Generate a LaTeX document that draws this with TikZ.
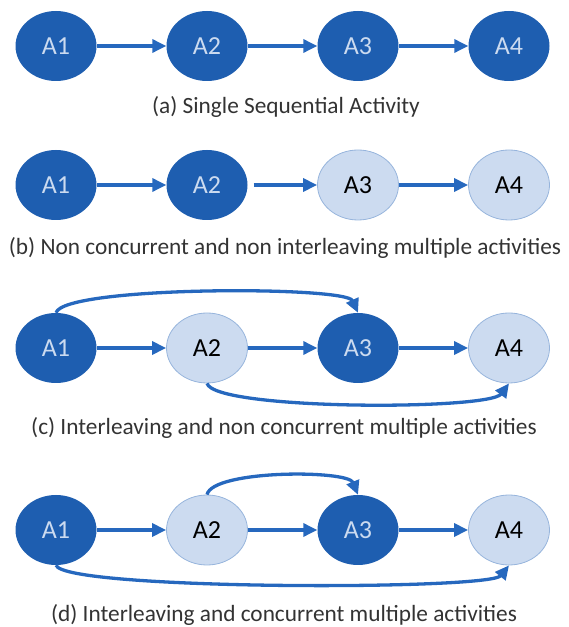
\documentclass[tikz,border=0pt]{standalone}
\usepackage{fontspec}
\setmainfont{Carlito}
\usetikzlibrary{arrows.meta,positioning,shapes.geometric}
\definecolor{actdark}{RGB}{30,94,176}
\definecolor{actlight}{RGB}{204,219,240}
\definecolor{actrim}{RGB}{150,180,220}
\definecolor{flowblue}{RGB}{38,104,190}

\begin{document}
\begin{tikzpicture}[x=1pt,y=1pt,>={Triangle[length=14pt,width=13pt]},node distance=151pt,on grid]
\useasboundingbox (0,0) rectangle (569,627);
\tikzset{act/.style={ellipse,minimum width=81pt,minimum height=70pt,inner sep=0pt,font=\fontsize{26}{28}\selectfont}}
\tikzset{busy/.style={act,fill=actdark,text=actlight}}
\tikzset{idle/.style={act,fill=actlight,draw=actrim,line width=0.8pt,text=black}}
\tikzset{flow/.style={->,draw=flowblue,line width=3.3pt}}
\tikzset{caption/.style={font=\fontsize{23.3}{25}\selectfont,text=black!80}}

  % (a)
  \node[busy]          (a1) at (56,581)         {A1};
  \node[busy]          (a2) [right =of a1]      {A2};
  \node[busy]          (a3) [right =of a2]      {A3};
  \node[busy]          (a4) [right =of a3]      {A4};
  \node[caption]       (ca) at (286,520)        {(a) Single Sequential Activity};
\path
      (a1)     edge [flow]     (a2)
      (a2)     edge [flow]     (a3)
      (a3)     edge [flow]     (a4);

  % (b)
  \node[busy]          (b1) at (56,442)         {A1};
  \node[busy]          (b2) [right =of b1]      {A2};
  \node[idle]          (b3) [right =of b2]      {A3};
  \node[idle]          (b4) [right =of b3]      {A4};
  \node[caption]       (cb) at (285,379)        {(b) Non concurrent and non interleaving multiple activities};
\path
      (b1)     edge [flow]     (b2)
      (b2)     edge [flow,shorten <=6pt]     (b3)
      (b3)     edge [flow]     (b4);

  % (c)
  \node[busy]          (c1) at (56,279)         {A1};
  \node[idle]          (c2) [right =of c1]      {A2};
  \node[busy]          (c3) [right =of c2]      {A3};
  \node[idle]          (c4) [right =of c3]      {A4};
  \node[caption]       (cc) at (284,199)        {(c) Interleaving and non concurrent multiple activities};
\path
      (c1)     edge [flow]     (c2)
      (c2)     edge [flow]     (c3)
      (c3)     edge [flow]     (c4);
  % long hops, north to north and south to south
  \draw[flow] (c1.north) .. controls +(8,27) and +(-12,27) .. (c3.north);
  \draw[flow] (c2.south) .. controls +(8,-27) and +(-20,-27) .. (c4.south);

  % (d)
  \node[busy]          (d1) at (56,97)          {A1};
  \node[idle]          (d2) [right =of d1]      {A2};
  \node[busy]          (d3) [right =of d2]      {A3};
  \node[idle]          (d4) [right =of d3]      {A4};
  \node[caption]       (cd) at (284,12)         {(d) Interleaving and concurrent multiple activities};
\path
      (d1)     edge [flow]     (d2)
      (d2)     edge [flow]     (d3)
      (d3)     edge [flow]     (d4);
  \draw[flow] (d2.north) .. controls +(6,25) and +(-10,25) .. (d3.north);
  \draw[flow] (d1.south) .. controls +(8,-25) and +(-20,-25) .. (d4.south);
\end{tikzpicture}
\end{document}
